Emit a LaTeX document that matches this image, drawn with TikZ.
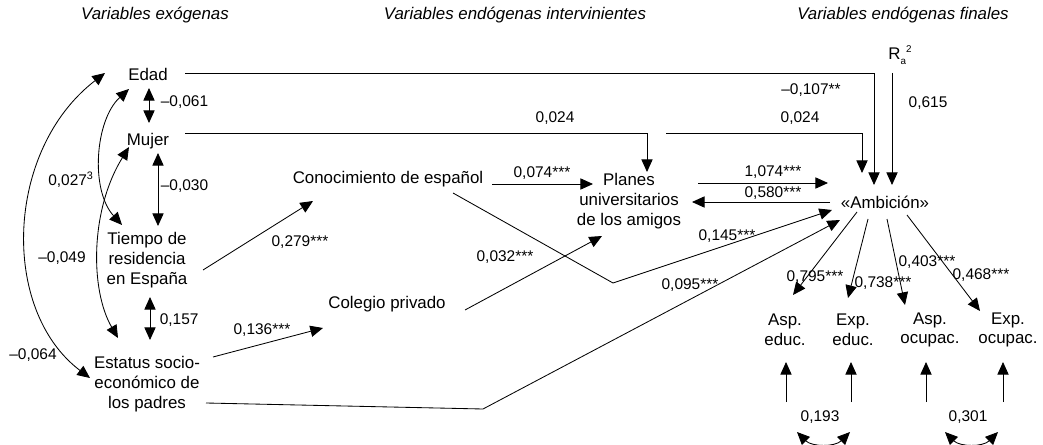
\documentclass[tikz,border=0pt]{standalone}
\usepackage{fontspec}
\setmainfont{Liberation Sans}
\usetikzlibrary{arrows.meta,calc}

\tikzset{
  var/.style={font=\fontsize{12}{14}\selectfont, align=center, inner sep=2pt},
  coef/.style={font=\fontsize{11}{13}\selectfont, inner sep=1pt},
  head/.style={font=\fontsize{12}{14}\selectfont\itshape},
  eff/.style={->},
  cov/.style={<->}
}

\begin{document}
\begin{tikzpicture}[x=0.025cm, y=-0.025cm, line width=0.6pt, >={Triangle[length=9pt,width=8pt]}]
\useasboundingbox (0,0) rectangle (1043,445);

% headings
\node[head] (hexo) at (155,15) {Variables exógenas};
\node[head] (hint) at (515,15) {Variables endógenas intervinientes};
\node[head] (hfin) at (903,15) {Variables endógenas finales};

% variables
\node[var] (edad) at (148,74) {Edad};
\node[var] (mujer) at (148,141) {Mujer};
\node[var] (tiempo) at (147,260) {Tiempo de\\residencia\\en España};
\node[var] (estatus) at (147,384) {Estatus socio-\\económico de\\los padres};
\node[var] (conoc) at (388,179) {Conocimiento de español};
\node[var] (colegio) at (387,304) {Colegio privado};
\node[var] (planes) at (629,201) {Planes\\universitarios\\de los amigos};
\node[var] (ambic) at (885,202) {«Ambición»};
\node[var] (rsq) at (900,55) {R\raisebox{-3.5pt}{\fontsize{7}{8}\selectfont a}\raisebox{5pt}{\fontsize{7}{8}\selectfont 2}};
\node[var] (aspE) at (785,330) {Asp.\\educ.};
\node[var] (expE) at (853,330) {Exp.\\educ.};
\node[var] (aspO) at (930,330) {Asp.\\ocupac.};
\node[var] (expO) at (1008,330) {Exp.\\ocupac.};

% correlations among exogenous
\draw[cov] ($(edad)+(1,14)$) -- ($(mujer)+(1,-18)$);
\draw[cov] ($(mujer)+(10,12)$) -- ($(tiempo)+(11,-34)$);
\draw[cov] ($(tiempo)+(3,37)$) -- ($(estatus)+(3,-44)$);
\draw[cov] ($(edad)+(-43,-1)$) .. controls +(-100,77) and +(-90,-68) .. ($(estatus)+(-57,-6)$);
\draw[cov] ($(edad)+(-19,15)$) .. controls +(-34,31) and +(-32,-35) .. ($(tiempo)+(-25,-35)$);
\draw[cov] ($(mujer)+(-19,6)$) .. controls +(-39,63) and +(-28,-48) .. ($(estatus)+(-29,-46)$);
\node[coef, anchor=west] (c061) at (159,102) {–0,061};
\node[coef, anchor=west] (c030) at (159,186) {–0,030};
\node[coef, anchor=west] (c157) at (158,320) {0,157};
\node[coef] (c027) at (71,180) {0,027\textsuperscript{3}};
\node[coef] (c049) at (62,258) {–0,049};
\node[coef] (c064) at (33,355) {–0,064};

% effects
\draw[eff] ($(tiempo)+(56,10)$) -- ($(conoc)+(-75,22)$);
\draw[eff] ($(estatus)+(66,-27)$) -- ($(colegio)+(-64,24)$);
\draw[eff] ($(conoc)+(104,5)$) -- ($(planes)+(-36,-17)$);
\draw[eff] ($(colegio)+(78,6)$) -- ($(planes)+(-27,35)$);
\draw[eff] ($(conoc)+(65,14)$) -- (613,283) -- ($(ambic)+(-53,8)$);
\draw[eff] ($(estatus)+(59,19)$) -- (483,409) -- ($(ambic)+(-45,18)$);
\draw[eff] ($(edad)+(37,-1)$) -| ($(ambic)+(-11,-17)$);
\draw[eff] ($(mujer)+(37,-8)$) -| ($(planes)+(18,-29)$);
\coordinate (hop) at (666,133);
\draw[eff] (hop) -| ($(ambic)+(-23,-29)$);
\draw[eff] ($(rsq)+(-8,18)$) -- ($(ambic)+(7,-17)$);
\draw[eff] ($(planes)+(69,-18)$) -- ($(ambic)+(-57,-19)$);
\draw[eff] ($(ambic)+(-55,0)$) -- ($(planes)+(63,1)$);
\node[coef] (c279) at (300,242) {0,279***};
\node[coef] (c136) at (262,330) {0,136***};
\node[coef] (c074) at (542,173) {0,074***};
\node[coef] (c032) at (505,257) {0,032***};
\node[coef] (c145) at (727,236) {0,145***};
\node[coef] (c095) at (690,285) {0,095***};
\node[coef] (c024a) at (555,118) {0,024};
\node[coef] (c024b) at (800,118) {0,024};
\node[coef] (c107) at (811,90) {–0,107**};
\node[coef] (c615) at (928,103) {0,615};
\node[coef] (c1074) at (773,172) {1,074***};
\node[coef] (c580) at (773,193) {0,580***};

% indicators
\draw[eff] ($(ambic)+(-28,10)$) -- ($(aspE)+(8,-35)$);
\draw[eff] ($(ambic)+(-17,17)$) -- ($(expE)+(-5,-32)$);
\draw[eff] ($(ambic)+(2,17)$) -- ($(aspO)+(-25,-25)$);
\draw[eff] ($(ambic)+(22,13)$) -- ($(expO)+(-28,-19)$);
\node[coef] (c795) at (815,277) {0,795***};
\node[coef] (c738) at (883,283) {0,738***};
\node[coef] (c403) at (927,262) {0,403***};
\node[coef] (c468) at (981,275) {0,468***};

% errors
\coordinate (u1) at (786,402);
\coordinate (u2) at (851,402);
\coordinate (u3) at (926,402);
\coordinate (u4) at (1003,402);
\draw[eff] (u1) -- ($(aspE)+(1,32)$);
\draw[eff] (u2) -- ($(expE)+(-2,32)$);
\draw[eff] (u3) -- ($(aspO)+(-4,32)$);
\draw[eff] (u4) -- ($(expO)+(-5,32)$);
\coordinate (w1) at (797,432);
\coordinate (w2) at (850,432);
\coordinate (w3) at (945,432);
\coordinate (w4) at (998,432);
\draw[cov] (w1) .. controls +(15,15) and +(-15,15) .. (w2);
\draw[cov] (w3) .. controls +(15,15) and +(-15,15) .. (w4);
\node[coef] (c193) at (820,417) {0,193};
\node[coef] (c301) at (968,417) {0,301};
\end{tikzpicture}
\end{document}
